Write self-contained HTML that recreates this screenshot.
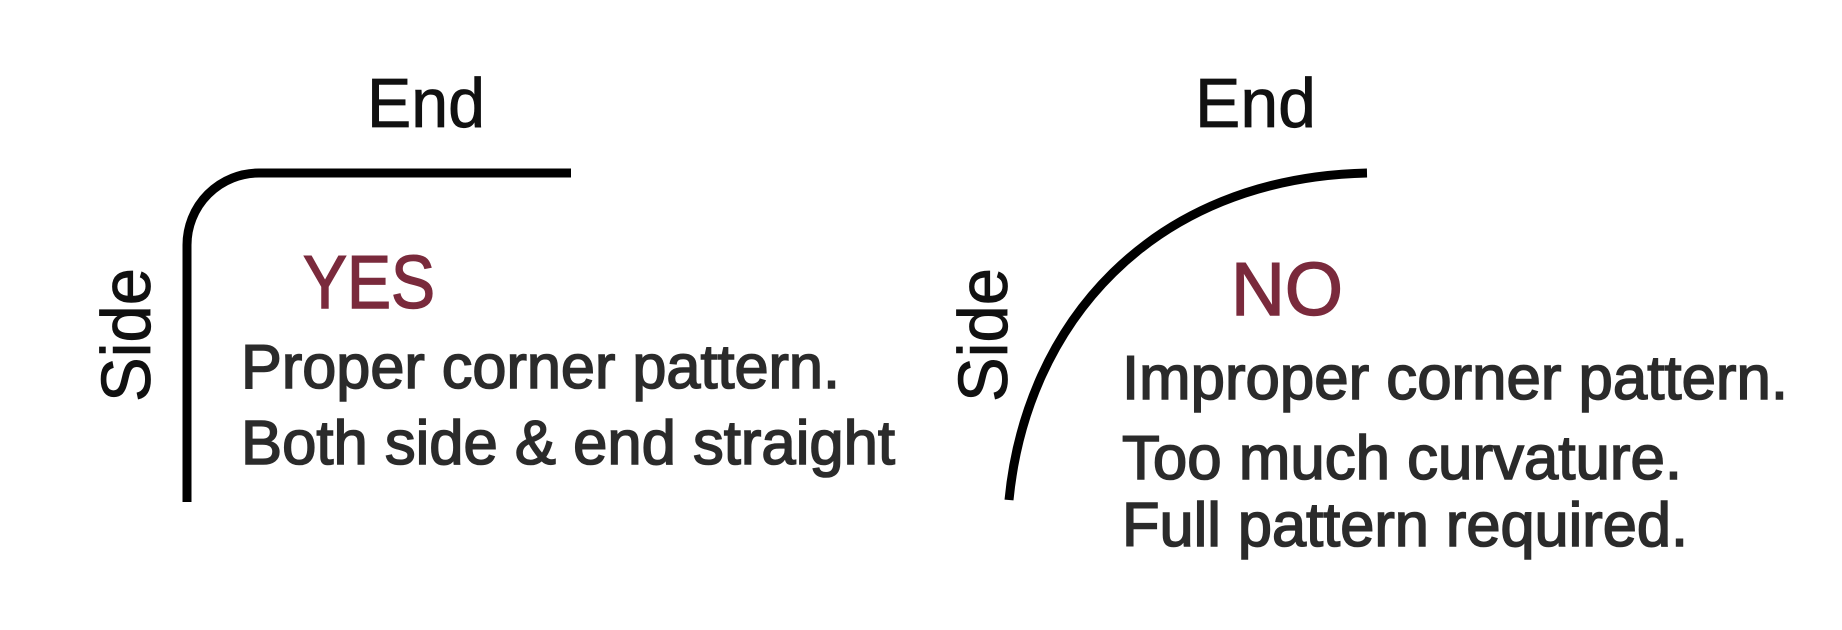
<!DOCTYPE html>
<html><head><meta charset="utf-8"><style>
html,body{margin:0;padding:0;background:#fff;}
svg{display:block;}
text{font-family:"Liberation Sans",sans-serif;}
</style></head><body>
<svg width="1842" height="630" viewBox="0 0 1842 630" xmlns="http://www.w3.org/2000/svg">
<rect width="1842" height="630" fill="#fff"/>
<path d="M187 502 L187 245 A72 72 0 0 1 259 173 L571 173" fill="none" stroke="#000" stroke-width="9"/>
<path d="M1009 500 C1026 325 1150 178 1367 173" fill="none" stroke="#000" stroke-width="9"/>

<g fill="#111" stroke="#111" stroke-width="0.8">
<text x="367" y="127" font-size="70" textLength="118" lengthAdjust="spacingAndGlyphs">End</text>
<text x="1195" y="127" font-size="70" textLength="121" lengthAdjust="spacingAndGlyphs">End</text>
<text transform="translate(150,402) rotate(-90)" x="0" y="0" font-size="70" textLength="134" lengthAdjust="spacingAndGlyphs">Side</text>
<text transform="translate(1007,402) rotate(-90)" x="0" y="0" font-size="70" textLength="134" lengthAdjust="spacingAndGlyphs">Side</text>
</g>

<g fill="#7a2a3c" stroke="#7a2a3c" stroke-width="1.5">
<text x="303" y="308" font-size="75" textLength="132" lengthAdjust="spacingAndGlyphs">YES</text>
<text x="1231" y="315" font-size="75" textLength="112" lengthAdjust="spacingAndGlyphs">NO</text>
</g>

<g fill="#2b2b2b" stroke="#2b2b2b" stroke-width="1.6" font-size="62">
<text x="241" y="388" textLength="599" lengthAdjust="spacingAndGlyphs">Proper corner pattern.</text>
<text x="241" y="464" textLength="654" lengthAdjust="spacingAndGlyphs">Both side &amp; end straight</text>
<text x="1122" y="399" textLength="666" lengthAdjust="spacingAndGlyphs">Improper corner pattern.</text>
<text x="1122" y="479" textLength="560" lengthAdjust="spacingAndGlyphs">Too much curvature.</text>
<text x="1122" y="546" textLength="566" lengthAdjust="spacingAndGlyphs">Full pattern required.</text>
</g>
</svg>
</body></html>
